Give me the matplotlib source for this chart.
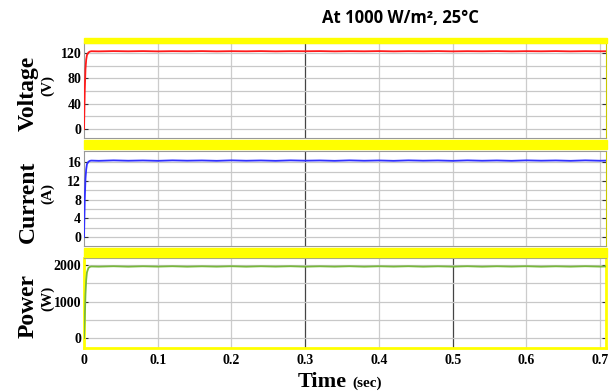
import matplotlib.pyplot as plt
from matplotlib.patches import Rectangle

# simulated PV output at 1000 W/m2, 25 C
time_s = [0, 0.001, 0.002, 0.003, 0.004, 0.006, 0.008, 0.010,
          0.02, 0.04, 0.06, 0.08, 0.10, 0.12, 0.14, 0.16, 0.18, 0.20,
          0.22, 0.24, 0.26, 0.28, 0.30, 0.32, 0.34, 0.36, 0.38, 0.40,
          0.42, 0.44, 0.46, 0.48, 0.50, 0.52, 0.54, 0.56, 0.58, 0.60,
          0.62, 0.64, 0.66, 0.68, 0.70, 0.708]
voltage_V = [0, 60, 95, 110, 117, 121, 122.5, 123,
             122.8, 123.2, 122.9, 123.2, 122.8, 123.1, 122.9, 123.2, 122.8, 123.1,
             122.9, 123.2, 122.8, 123.1, 123.0, 123.2, 122.8, 123.1, 122.9, 123.2,
             122.8, 123.1, 122.9, 123.2, 122.8, 123.1, 122.9, 123.2, 122.8, 123.1,
             122.9, 123.2, 122.8, 123.1, 122.9, 123.0]
current_A = [0, 8, 12.5, 14.5, 15.6, 16.1, 16.3, 16.35,
             16.3, 16.4, 16.32, 16.38, 16.3, 16.4, 16.33, 16.38, 16.3, 16.4,
             16.32, 16.38, 16.3, 16.4, 16.33, 16.38, 16.3, 16.4, 16.32, 16.38,
             16.3, 16.4, 16.33, 16.38, 16.3, 16.4, 16.32, 16.38, 16.3, 16.4,
             16.33, 16.38, 16.3, 16.4, 16.32, 16.35]
power_W = [0, 500, 1200, 1600, 1800, 1920, 1950, 1960,
           1955, 1966, 1954, 1965, 1956, 1966, 1954, 1964, 1955, 1966,
           1954, 1965, 1956, 1966, 1954, 1964, 1955, 1966, 1954, 1965,
           1956, 1966, 1954, 1964, 1955, 1966, 1954, 1965, 1956, 1966,
           1954, 1964, 1955, 1966, 1956, 1960]

x_ticks = [0, 0.1, 0.2, 0.3, 0.4, 0.5, 0.6, 0.7]
x_labels = ['0', '0.1', '0.2', '0.3', '0.4', '0.5', '0.6', '0.7']

panels = [
    # series, colour, label, unit, ticks, minor grid, ylim, dark verticals
    (voltage_V, '#ff1a1a', 'Voltage', '(V)', [0, 40, 80, 120], [20, 60, 100], (-14, 136), [0.3]),
    (current_A, '#3030ff', 'Current', '(A)', [0, 4, 8, 12, 16], [2, 6, 10, 14], (-1.9, 18.4), [0.3]),
    (power_W, '#78b83c', 'Power', '(W)', [0, 1000, 2000], [500, 1500], (-274, 2192), [0.3, 0.5]),
]

YELLOW = '#ffff00'
serif = 'Liberation Serif'

fig = plt.figure(figsize=(6.11, 3.92), dpi=100)
W, H = 611, 392

def px_axes(x0, y0, x1, y1):
    return fig.add_axes([x0 / W, 1 - y1 / H, (x1 - x0) / W, (y1 - y0) / H])

boxes = [(43, 138), (151, 246), (258, 348)]
bands = [(38, 43), (140, 149), (248, 257)]
for y0, y1 in bands:
    fig.patches.append(Rectangle((84 / W, 1 - y1 / H), 523 / W, (y1 - y0) / H,
                                 transform=fig.transFigure, color=YELLOW, zorder=0))

axes = []
for (y0, y1), (vals, col, name, unit, ticks, minor, ylim, dark) in zip(boxes, panels):
    ax = px_axes(84, y0, 606, y1)
    ax.set_xlim(0, 0.708)
    ax.set_ylim(*ylim)
    for t in x_ticks[1:]:
        ax.axvline(t, color='#444444' if t in dark else '#cccccc', lw=0.9, zorder=1)
    for v in ticks + minor:
        ax.axhline(v, color='#c8c8c8', lw=0.9, zorder=1)
    ax.plot(time_s, vals, color=col, lw=1.3, zorder=3)
    ax.set_yticks(ticks)
    ax.set_yticklabels([str(t) for t in ticks], fontfamily=serif,
                       fontweight='bold', fontsize=10)
    ax.tick_params(axis='y', direction='in', length=3, width=0.8, pad=2,
                   color='#333333', right=True)
    ax.set_xticks(x_ticks)
    ax.tick_params(axis='x', length=0, labelbottom=False)
    for s in ax.spines.values():
        s.set_color('#999999')
        s.set_linewidth(0.8)
    ax.spines['right'].set_color('#c8c800')
    ax.text(-0.107, 0.47, name, transform=ax.transAxes, rotation=90,
            ha='center', va='center', fontfamily=serif, fontweight='bold',
            fontsize=17)
    ax.text(-0.07, 0.55, unit, transform=ax.transAxes, rotation=90,
            ha='center', va='center', fontfamily=serif, fontweight='bold',
            fontsize=11)
    axes.append(ax)

# bottom panel has yellow frame and time labels
bot = axes[-1]
for side in ['left', 'right', 'bottom']:
    bot.spines[side].set_color(YELLOW)
    bot.spines[side].set_linewidth(2)
bot.tick_params(axis='x', labelbottom=True, pad=4)
bot.set_xticklabels(x_labels, fontfamily=serif, fontweight='bold', fontsize=10)

fig.text(0.568, 0.014, 'Time', ha='right', va='baseline', fontfamily=serif,
         fontweight='bold', fontsize=16)
fig.text(0.576, 0.014, '(sec)', ha='left', va='baseline', fontfamily=serif,
         fontweight='bold', fontsize=11)

fig.text(0.656, 0.955, 'At 1000 W/m\u00b2, 25\u00b0C', ha='center', va='center',
         fontfamily='Open Sans', fontweight='bold', fontsize=12)

fig.savefig('out.png', dpi=100)
